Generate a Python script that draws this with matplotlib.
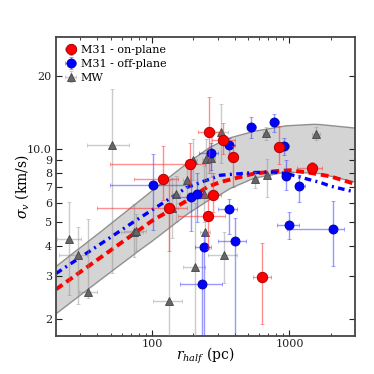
import numpy as np
import matplotlib
matplotlib.use("Agg")
import matplotlib.pyplot as plt
from matplotlib.ticker import FixedLocator, FixedFormatter, NullFormatter

plt.rcParams['font.family'] = ['DejaVu Serif']
plt.rcParams['mathtext.fontset'] = 'dejavuserif'

# ---------------- data ----------------
# M31 on-plane (red)
on_r   = [120.9, 189, 260, 327, 389, 277, 132, 255, 837, 1462, 636]
on_s   = [7.57, 8.73, 11.75, 10.9, 9.3, 6.46, 5.75, 5.3, 10.2, 8.37, 2.98]
on_rlo = [74, 49, 217, 272, 375, 240, 40, 155, 800, 1133, 541]
on_rhi = [155, 243, 313, 402, 403, 318, 179, 340, 875, 1723, 735]
on_slo = [6.2, 7.0, 8.0, 9.6, 7.0, 5.5, 3.8, 3.9, 8.7, 8.0, 1.9]
on_shi = [10.35, 10.6, 16.5, 12.9, 10.3, 8.0, 7.5, 6.5, 12.5, 8.9, 4.1]

# M31 off-plane (blue)
off_r   = [102, 267.6, 362, 193, 211.6, 362, 528, 778, 914, 942, 1178, 238, 404.6, 230, 1000, 2080]
off_s   = [7.11, 9.66, 10.45, 6.37, 6.57, 5.68, 12.36, 12.95, 10.29, 7.76, 7.06, 3.97, 4.18, 2.79, 4.88, 4.68]
off_rlo = [49, 218, 330, 143, 185, 301, 490, 730, 840, 880, 1090, 207, 301, 160, 811, 962]
off_rhi = [174, 300, 400, 223, 240, 416, 570, 840, 1000, 1010, 1290, 270, 485, 322, 1170, 2500]
off_slo = [4.63, 8.2, 9.3, 4.6, 5.0, 4.47, 11.1, 11.8, 9.45, 6.8, 6.07, 1.6, 1.6, 1.6, 4.27, 3.29]
off_shi = [9.6, 10.6, 11.1, 8.3, 8.0, 6.24, 13.6, 14.0, 11.1, 9.0, 7.83, 4.47, 5.2, 4.0, 5.5, 6.1]

# Milky Way (gray)
mw_r   = [25, 29, 34, 50.9, 73.5, 77, 133.7, 139, 149.6, 179, 200, 206.6, 240, 243, 247, 270, 318, 332.6, 562, 684, 673, 1556]
mw_s   = [4.27, 3.67, 2.58, 10.45, 4.58, 4.6, 2.38, 5.75, 6.57, 7.45, 9.07, 3.27, 6.57, 4.58, 9.1, 9.2, 11.78, 3.68, 7.52, 7.87, 11.68, 11.6]
mw_rlo = [20.3, 20.9, 29.6, 33.8, 59.4, 62, 102, 125, 140, 168, 188, 169, 225, 225, 232, 255, 289, 257, 530, 650, 640, 1450]
mw_rhi = [30.5, 33.8, 39.5, 68, 86.4, 90, 164, 155, 160, 190, 212, 243, 255, 265, 262, 285, 358, 413, 595, 720, 705, 1670]
mw_slo = [2.50, 2.31, 2.45, 3.08, 3.59, 3.8, 1.6, 4.3, 5.0, 6.2, 7.5, 1.6, 5.0, 4.09, 7.5, 7.7, 8.8, 2.8, 6.9, 6.36, 10.96, 10.9]
mw_shi = [6.07, 4.77, 5.17, 17.8, 5.95, 5.4, 5.8, 7.6, 7.8, 9.0, 11.0, 6.0, 8.5, 5.1, 11.0, 11.2, 15.4, 4.56, 8.1, 9.15, 12.4, 12.4]

# model curves
red_r = [20, 41.8, 101.2, 180, 251.5, 314, 550, 813, 1012, 1415, 1979, 3000]
red_s = [2.65, 3.57, 5.10, 6.15, 6.99, 7.33, 7.94, 8.14, 8.2, 8.0, 7.74, 7.2]
blue_r = [20, 41.8, 76.5, 180, 314, 550, 769, 962, 1339, 1682, 1979, 3000]
blue_s = [3.08, 4.06, 5.10, 6.97, 7.82, 8.02, 8.06, 7.94, 7.55, 7.3, 7.06, 6.67]
band_r  = [20, 41.8, 81.8, 100, 180, 264.5, 312.6, 370, 550, 946, 1506, 1673, 3000]
band_hi = [3.29, 4.55, 6.16, 6.75, 8.76, 10.2, 10.69, 11.15, 11.86, 12.5, 12.68, 12.65, 12.24]
band_lo = [2.10, 2.89, 3.85, 4.18, 5.40, 6.22, 6.5, 6.89, 7.60, 8.06, 7.98, 7.94, 7.33]

# ---------------- plot ----------------
fig = plt.figure(figsize=(3.74, 3.74), dpi=100)
ax = fig.add_axes([0.150, 0.1016, 0.799, 0.799])
ax.set_xscale('log')
ax.set_yscale('log')

ax.fill_between(band_r, band_lo, band_hi, facecolor='#d4d4d4', edgecolor='none', zorder=1)
ax.plot(band_r, band_hi, color='#909090', lw=1.0, zorder=1.1)
ax.plot(band_r, band_lo, color='#909090', lw=1.0, zorder=1.1)

def eb(r, s, rlo, rhi, slo, shi, fmt, mfc, mec, ecol, ms, label, z):
    r = np.array(r); s = np.array(s)
    xe = [r - np.array(rlo), np.array(rhi) - r]
    ye = [s - np.array(slo), np.array(shi) - s]
    ax.errorbar(r, s, xerr=xe, yerr=ye, fmt=fmt, mfc=mfc, mec=mec, ms=ms,
                ecolor=ecol, elinewidth=1.0, capsize=1.5, capthick=1.0,
                mew=0.6, label=label, zorder=z)

eb(mw_r, mw_s, mw_rlo, mw_rhi, mw_slo, mw_shi, '^', '#666666', '#444444', (0.55, 0.55, 0.55, 0.45), 5.5, 'MW', 3)
eb(off_r, off_s, off_rlo, off_rhi, off_slo, off_shi, 'o', '#0000ff', '#000099', (0.2, 0.2, 1.0, 0.5), 6.5, 'M31 - off-plane', 4)
eb(on_r, on_s, on_rlo, on_rhi, on_slo, on_shi, 'o', '#ff0000', '#990000', (1.0, 0.2, 0.2, 0.55), 7.5, 'M31 - on-plane', 5)

ax.plot(red_r, red_s, color='#ff0000', lw=2.8, ls=(0, (2.0, 1.2)), zorder=2)
ax.plot(blue_r, blue_s, color='#0000ff', lw=2.4, ls=(0, (2.0, 1.3, 0.6, 1.3)), zorder=2)

ax.set_xlim(20, 3000)
ax.set_ylim(1.7, 29)

ax.xaxis.set_major_locator(FixedLocator([100, 1000]))
ax.xaxis.set_major_formatter(FixedFormatter(['100', '1000']))
xm = [30, 40, 50, 60, 70, 80, 90, 200, 300, 400, 500, 600, 700, 800, 900, 2000]
ax.xaxis.set_minor_locator(FixedLocator(xm))
ax.xaxis.set_minor_formatter(NullFormatter())
yt = [2, 3, 4, 5, 6, 7, 8, 9, 10, 20]
ax.yaxis.set_major_locator(FixedLocator(yt))
ax.yaxis.set_major_formatter(FixedFormatter(['2', '3', '4', '5', '6', '7', '8', '9', '10.0', '20']))
ax.yaxis.set_minor_locator(FixedLocator([]))
ax.yaxis.set_minor_formatter(NullFormatter())

ax.tick_params(which='both', direction='in', top=True, right=True, labelsize=8, colors='#222222')
ax.tick_params(which='major', length=4, width=0.8)
ax.tick_params(axis='x', which='major', pad=2)
ax.tick_params(axis='y', which='major', pad=3)
ax.tick_params(which='minor', length=2, width=0.6)
for sp in ax.spines.values():
    sp.set_color('#444444')
    sp.set_linewidth(1.3)

ax.set_xlabel(r'$r_{half}$ (pc)', fontsize=10, labelpad=-2)
ax.set_ylabel(r'$\sigma_v$ (km/s)', fontsize=10, labelpad=-3)

h, l = ax.get_legend_handles_labels()
order = [2, 1, 0]
leg = ax.legend([h[i] for i in order], [l[i] for i in order], loc='upper left', frameon=False,
                fontsize=8, numpoints=1, handletextpad=0.3, borderaxespad=0.3, labelspacing=0.35,
                handlelength=1.2)

fig.savefig('out.png', dpi=100)
